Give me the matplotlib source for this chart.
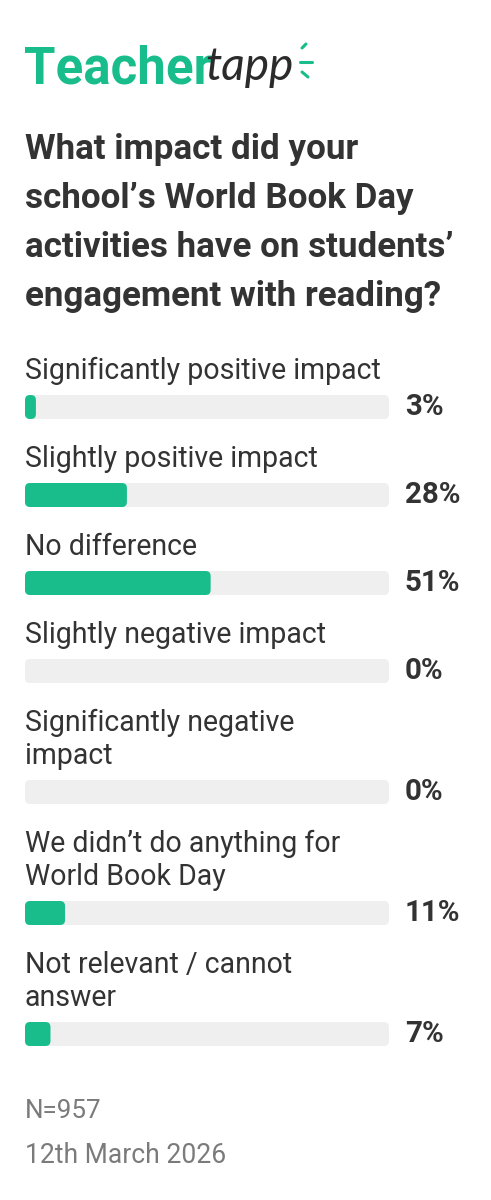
import matplotlib
matplotlib.use("Agg")
import matplotlib.pyplot as plt
from matplotlib.patches import FancyBboxPatch

# survey data
question = "What impact did your\nschool\u2019s World Book Day\nactivities have on students\u2019\nengagement with reading?"
answers = [
    "Significantly positive impact",
    "Slightly positive impact",
    "No difference",
    "Slightly negative impact",
    "Significantly negative\nimpact",
    "We didn\u2019t do anything for\nWorld Book Day",
    "Not relevant / cannot\nanswer",
]
percent = [3, 28, 51, 0, 0, 11, 7]
sample_note = "N=957"
date_note = "12th March 2026"

GREEN = "#19bd8c"
TRACK = "#efefef"
DARK = "#333333"
GREY = "#7b7b7b"
PT = 0.72  # px -> pt at dpi 100

fig = plt.figure(figsize=(4.91, 12), dpi=100)
fig.patch.set_facecolor("white")
ax = fig.add_axes([0, 0, 1, 1])
ax.set_xlim(0, 491)
ax.set_ylim(1200, 0)
ax.axis("off")

# bars live on their own axis: 0-100 % across the track
left, track_w = 25, 364
bx = fig.add_axes([left / 491, 0, track_w / 491, 1])
bx.set_xlim(0, 100)
bx.set_ylim(1200, 0)
bx.axis("off")
px_per_unit = track_w / 100

# logo
ax.text(24, 83, "Teacher", fontsize=51 * PT, fontfamily="Roboto", fontweight="bold",
        color=GREEN, va="baseline", ha="left")
ax.text(205, 80, "tapp", fontsize=46 * PT, fontfamily="Lato", style="italic",
        color="#2b2b2b", va="baseline", ha="left")
ax.plot([302, 306], [48, 44], color=GREEN, lw=2.2, solid_capstyle="round")
ax.plot([300, 312], [62, 62], color=GREEN, lw=2.2, solid_capstyle="round")
ax.plot([302, 308], [72, 77], color=GREEN, lw=2.2, solid_capstyle="round")

# title
for i, line in enumerate(question.split("\n")):
    ax.text(25, 159 + i * 49, line, fontsize=35 * PT, fontfamily="Roboto",
            fontweight="bold", color=DARK, va="baseline", ha="left")

# answers
base = 379
for label, val in zip(answers, percent):
    lines = label.split("\n")
    for j, line in enumerate(lines):
        ax.text(25, base + j * 33, line, fontsize=28.5 * PT, fontfamily="Roboto",
                color=DARK, va="baseline", ha="left")
    centre = base + (len(lines) - 1) * 33 + 28
    bx.add_patch(FancyBboxPatch((0, centre - 12), 100, 24,
                                boxstyle="round,pad=0,rounding_size=%f" % (5 / px_per_unit),
                                mutation_aspect=px_per_unit, fc=TRACK, ec="none"))
    if val > 0:
        bx.add_patch(FancyBboxPatch((0, centre - 12), val, 24,
                                    boxstyle="round,pad=0,rounding_size=%f" % (5 / px_per_unit),
                                    mutation_aspect=px_per_unit, fc=GREEN, ec="none"))
    ax.text(405, centre + 8, "%d%%" % val, fontsize=29.5 * PT, fontfamily="Roboto",
            fontweight="bold", color=DARK, va="baseline", ha="left")
    base = centre + 60

ax.text(25, 1118, sample_note, fontsize=26 * PT, fontfamily="Roboto", color=GREY,
        va="baseline", ha="left")
ax.text(25, 1163, date_note, fontsize=26.5 * PT, fontfamily="Roboto", color=GREY,
        va="baseline", ha="left")

fig.savefig("out.png", dpi=100, facecolor="white")
